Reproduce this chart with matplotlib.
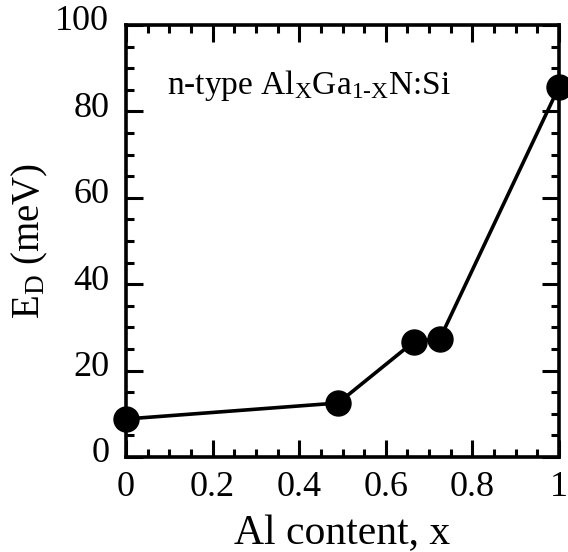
import matplotlib
matplotlib.use("Agg")
import matplotlib.pyplot as plt
import matplotlib.transforms as mtransforms
from matplotlib.ticker import MultipleLocator

plt.rcParams['font.family'] = ['Liberation Serif', 'DejaVu Serif']
plt.rcParams['mathtext.fontset'] = 'custom'
plt.rcParams['mathtext.rm'] = 'Liberation Serif'
plt.rcParams['mathtext.it'] = 'Liberation Serif'

al_content = [0.0, 0.49, 0.665, 0.725, 1.0]
ed_mev = [8.8, 12.5, 26.7, 27.4, 85.7]
x_ticks = [0, 0.2, 0.4, 0.6, 0.8, 1.0]
x_tick_labels = ['0', '0.2', '0.4', '0.6', '0.8', '1']
y_ticks = [0, 20, 40, 60, 80, 100]
y_tick_labels = ['0', '20', '40', '60', '80', '100']

fig = plt.figure(figsize=(5.68, 5.52), dpi=100)
ax = fig.add_axes([126/568, 1 - 457/552, (559-126)/568, (457-25)/552])

ax.plot(al_content, ed_mev, color='black', lw=2.6, marker='o', ms=18,
        markerfacecolor='black', markeredgecolor='black', clip_on=False, zorder=3)

ax.set_xlim(0, 1)
ax.set_ylim(0, 100)
ax.set_xticks(x_ticks)
ax.set_xticklabels(x_tick_labels)
ax.set_yticks(y_ticks)
ax.set_yticklabels(y_tick_labels)
ax.xaxis.set_minor_locator(MultipleLocator(0.05))
ax.yaxis.set_minor_locator(MultipleLocator(5))

ax.tick_params(which='both', direction='in', top=True, right=True, width=2.2, labelsize=26)
ax.tick_params(which='major', length=12)
ax.tick_params(which='minor', length=6)
ax.tick_params(axis='x', which='major', pad=10)
ax.tick_params(axis='y', which='major', pad=12)
for s in ax.spines.values():
    s.set_linewidth(2.6)

offset = mtransforms.ScaledTranslation(0, 7/100, fig.dpi_scale_trans)
for lab in ax.get_yticklabels():
    lab.set_transform(lab.get_transform() + offset)

ax.set_xlabel('Al content, x', fontsize=30, labelpad=8)
ax.set_ylabel(r'E$_{\mathrm{D}}$ (meV)', fontsize=28, labelpad=4)

ax.text(0.095, 0.86, r'n-type Al$_{\mathrm{X}}$Ga$_{\mathrm{1\text{-}X}}$N:Si',
        transform=ax.transAxes, fontsize=24, ha='left', va='center')

fig.savefig('out.png', dpi=100)
